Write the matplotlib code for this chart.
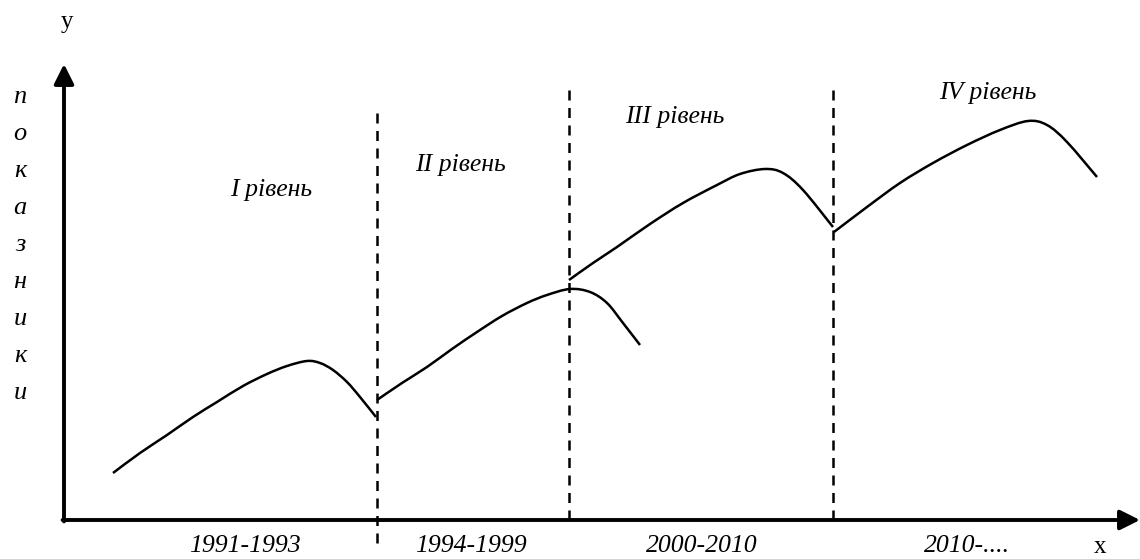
import numpy as np
import matplotlib.pyplot as plt
from matplotlib.path import Path
from matplotlib.patches import PathPatch

plt.rcParams['font.family'] = ['Liberation Serif', 'DejaVu Serif']

# curves (diagram units = pixels, y grows down)
c1_x = [113, 140, 167, 193, 217, 243, 267, 287, 307, 320, 333, 347, 360, 376]
c1_y = [473, 453, 435, 417, 402, 386, 374, 366, 361, 363, 370, 382, 397, 417]
c2_x = [377, 402, 427, 452, 477, 502, 527, 547, 570, 590, 607, 623, 640]
c2_y = [400, 383, 367, 349, 332, 316, 303, 295, 289, 292, 303, 323, 345]
c3_x = [569, 593, 617, 650, 683, 717, 740, 765, 783, 803, 833]
c3_y = [280, 263, 247, 224, 203, 185, 174, 169, 173, 190, 227]
c4_x = [834, 867, 900, 933, 967, 1000, 1028, 1047, 1067, 1097]
c4_y = [232, 207, 183, 163, 145, 130, 121, 125, 142, 177]

# period borders
borders = [377, 569, 833]
border_top = [113, 90, 90]
border_bottom = [545, 520, 520]

periods = ['1991-1993', '1994-1999', '2000-2010', '2010-....']
period_x = [245, 471, 702, 967]
levels = ['I рівень', 'II рівень', 'III рівень', 'IV рівень']
level_x = [271, 460, 675, 988]
level_y = [190, 165, 117, 93]
ylabel_letters = list('показники')


def smooth_path(xs, ys):
    # Catmull-Rom through the read points, drawn as cubic bezier segments
    p = np.column_stack([xs, ys]).astype(float)
    p_ext = np.vstack([p[0], p, p[-1]])
    verts = [p[0]]
    codes = [Path.MOVETO]
    for i in range(1, len(p_ext) - 2):
        p0, p1, p2, p3 = p_ext[i - 1], p_ext[i], p_ext[i + 1], p_ext[i + 2]
        verts += [p1 + (p2 - p0) / 6, p2 - (p3 - p1) / 6, p2]
        codes += [Path.CURVE4] * 3
    return Path(verts, codes)


fig = plt.figure(figsize=(11.4, 5.59), dpi=100)
ax = fig.add_axes([0, 0, 1, 1])
ax.set_xlim(0, 1140)
ax.set_ylim(559, 0)
ax.axis('off')

# axes with arrows
ox, oy = 64, 520
arrow = dict(arrowstyle='-|>,head_length=0.6,head_width=0.3', lw=2.8,
             color='black', mutation_scale=20, shrinkA=0, shrinkB=0)
ax.annotate('', xy=(ox, 64), xytext=(ox, oy + 1.4), arrowprops=arrow)
ax.annotate('', xy=(1140, oy), xytext=(ox - 1.4, oy), arrowprops=arrow)

for bx, t, b in zip(borders, border_top, border_bottom):
    ax.plot([bx, bx], [t, b], color='black', lw=1.8, ls=(0, (4, 3)))

for xs, ys in [(c1_x, c1_y), (c2_x, c2_y), (c3_x, c3_y), (c4_x, c4_y)]:
    ax.add_patch(PathPatch(smooth_path(xs, ys), fill=False, ec='black', lw=1.8))

for lab, x in zip(periods, period_x):
    ax.text(x, 546, lab, fontsize=18.5, style='italic', ha='center', va='center')

for lab, x, y in zip(levels, level_x, level_y):
    ax.text(x, y, lab, fontsize=18.5, style='italic', ha='center', va='center')

for i, ch in enumerate(ylabel_letters):
    ax.text(20, 97 + i * 37, ch, fontsize=19, style='italic', ha='center', va='center')

ax.text(67, 22, 'y', fontsize=18, ha='center', va='center')
ax.text(1100, 547, 'x', fontsize=18, ha='center', va='center')

fig.savefig('out.png', dpi=100)
